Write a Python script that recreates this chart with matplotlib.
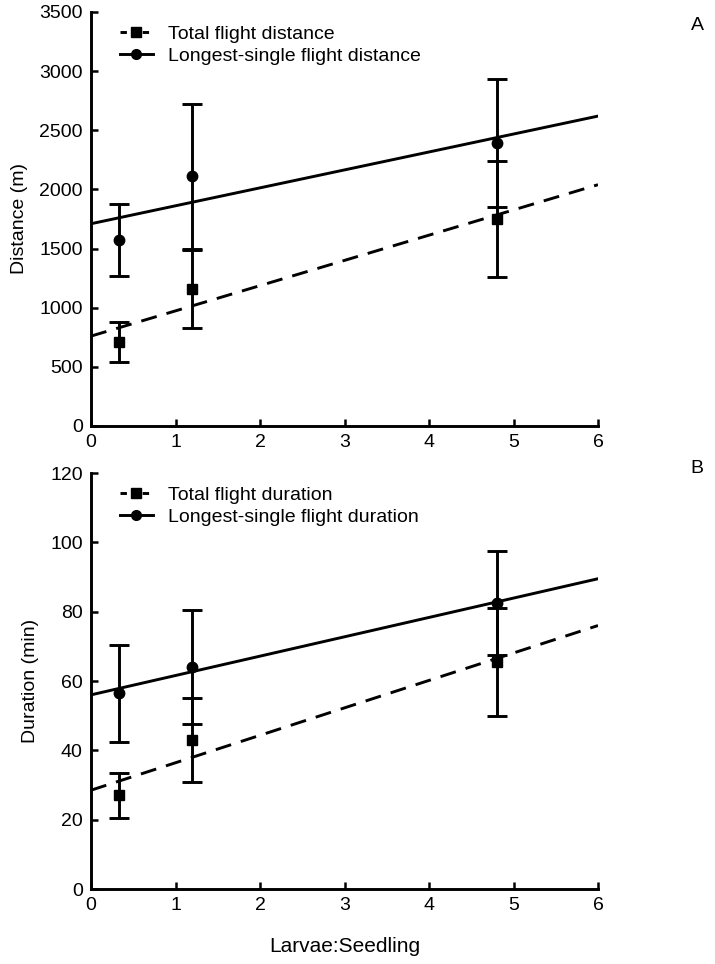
import matplotlib.pyplot as plt
import numpy as np

plt.rcParams['font.family'] = ['Liberation Sans', 'DejaVu Sans']

# ratio of larvae to seedling
ratio = [0.33, 1.2, 4.8]

# panel A - distance (m)
total_dist = [710, 1160, 1750]
total_dist_err = [170, 330, 490]
long_dist = [1570, 2110, 2390]
long_dist_err = [305, 610, 540]
total_dist_fit = [760, 2040]   # at x = 0 and 6
long_dist_fit = [1710, 2620]

# panel B - duration (min)
total_dur = [27, 43, 65.5]
total_dur_err = [6.5, 12, 15.5]
long_dur = [56.5, 64, 82.5]
long_dur_err = [14, 16.5, 15]
total_dur_fit = [28.5, 76]
long_dur_fit = [56, 89.5]

fit_x = [0, 6]

W, H = 715, 964
fig = plt.figure(figsize=(W / 100, H / 100), dpi=100)
# axes boxes in pixels: left, right, top, bottom
axA = fig.add_axes([91 / W, 1 - 426 / H, (598 - 91) / W, (426 - 12) / H])
axB = fig.add_axes([91 / W, 1 - 889 / H, (598 - 91) / W, (889 - 473) / H])
axB.patch.set_visible(False)

LW = 2.1

def draw(ax, tot, tot_err, lng, lng_err, tot_fit, lng_fit, labels, ymax, ystep):
    ax.plot(fit_x, tot_fit, color='black', lw=LW, ls=(0, (5.5, 3.5)))
    ax.plot(fit_x, lng_fit, color='black', lw=LW)
    ax.errorbar(ratio, tot, yerr=tot_err, fmt='s', color='black', ms=7.5,
                elinewidth=LW, capsize=7, capthick=LW)
    ax.errorbar(ratio, lng, yerr=lng_err, fmt='o', color='black', ms=7.5,
                elinewidth=LW, capsize=7, capthick=LW)
    # legend proxies
    h1, = ax.plot([], [], color='black', lw=LW, ls=(0, (2.2, 1.6)), marker='s', ms=7)
    h2, = ax.plot([], [], color='black', lw=LW, marker='o', ms=7)
    ax.legend([h1, h2], labels, loc='upper left', bbox_to_anchor=(0.03, 1.0),
              frameon=False, fontsize=14, handlelength=1.7, handletextpad=0.8,
              labelspacing=0.2, borderaxespad=0.3)
    ax.set_xlim(0, 6)
    ax.set_ylim(0, ymax)
    ax.set_xticks(range(0, 7))
    ax.set_yticks(np.arange(0, ymax + 1, ystep))
    for s in ['top', 'right']:
        ax.spines[s].set_visible(False)
    for s in ['left', 'bottom']:
        ax.spines[s].set_linewidth(LW)
    ax.tick_params(direction='in', length=5, width=1.8, labelsize=14, pad=6)

draw(axA, total_dist, total_dist_err, long_dist, long_dist_err,
     total_dist_fit, long_dist_fit,
     ['Total flight distance', 'Longest-single flight distance'], 3500, 500)
axA.set_ylabel('Distance (m)', fontsize=14, labelpad=8)

draw(axB, total_dur, total_dur_err, long_dur, long_dur_err,
     total_dur_fit, long_dur_fit,
     ['Total flight duration', 'Longest-single flight duration'], 120, 20)
axB.set_ylabel('Duration (min)', fontsize=14, labelpad=8)
axB.set_xlabel('Larvae:Seedling', fontsize=15, labelpad=16)

fig.text(697 / W, 1 - 25 / H, 'A', fontsize=14, ha='center', va='center')
fig.text(697 / W, 1 - 468 / H, 'B', fontsize=14, ha='center', va='center')

fig.savefig('out.png', dpi=100)
